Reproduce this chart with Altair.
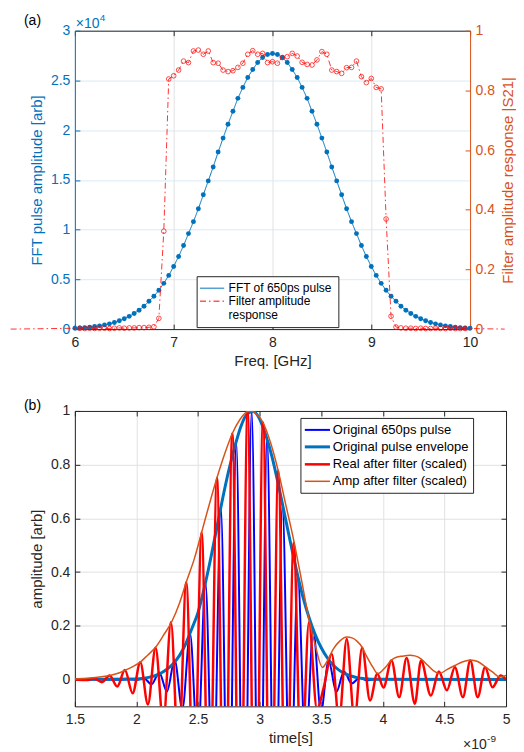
import altair as alt
import pandas as pd

FONT = "Liberation Sans"
TXT = "#262626"
BLUE = "#0072BD"
ORANGE = "#D95319"
RED = "#FF0000"
PBLUE = "#0000FF"
GRAYGRID = "#e1e1e1"
BLUEGRID = "#d9eaf5"

# ---------------- panel (a) data ----------------
fft_freq = [round(6 + 0.05 * i, 2) for i in range(81)]
fft_amp_e4 = [0.008, 0.011, 0.015, 0.020, 0.026, 0.033, 0.042, 0.053, 0.067, 0.084,
              0.104, 0.128, 0.157, 0.19, 0.23, 0.28, 0.33, 0.39, 0.46, 0.54,
              0.63, 0.73, 0.84, 0.96, 1.08, 1.21, 1.35, 1.49, 1.63, 1.78,
              1.92, 2.06, 2.19, 2.32, 2.43, 2.53, 2.61, 2.68, 2.73, 2.76,
              2.77,
              2.76, 2.73, 2.68, 2.61, 2.53, 2.43, 2.32, 2.19, 2.06, 1.92,
              1.78, 1.63, 1.49, 1.35, 1.21, 1.08, 0.96, 0.84, 0.73, 0.63,
              0.54, 0.46, 0.39, 0.33, 0.28, 0.23, 0.19, 0.157, 0.128, 0.104,
              0.084, 0.067, 0.053, 0.042, 0.033, 0.026, 0.020, 0.015, 0.011, 0.008]

filt_freq = [5.35] + [round(6.05 + 0.05 * i, 2) for i in range(79)] + [10.35]
filt_resp = ([0.0] +
             [0.003, 0.002, 0.003, 0.002, 0.003, 0.003, 0.002, 0.003, 0.004, 0.003,
              0.004, 0.004, 0.005, 0.005, 0.006, 0.008] +
             [0.036, 0.328, 0.838] +
             [0.849, 0.868, 0.898, 0.893, 0.932, 0.935, 0.921, 0.932, 0.893, 0.891,
              0.868, 0.863, 0.866, 0.877, 0.891, 0.921, 0.933, 0.921, 0.924, 0.893,
              0.896, 0.891, 0.910, 0.913, 0.924, 0.915, 0.894, 0.887, 0.885, 0.902,
              0.930, 0.921, 0.868, 0.863, 0.857, 0.876, 0.877, 0.898, 0.846, 0.826,
              0.840, 0.810, 0.805] +
             [0.369, 0.043, 0.007] +
             [0.004, 0.003, 0.003, 0.002, 0.003, 0.002, 0.002, 0.003, 0.002, 0.002,
              0.003, 0.002, 0.002, 0.002] +
             [0.0])

a_xticks = [6, 7, 8, 9, 10]
a_yticks = [0, 5000, 10000, 15000, 20000, 25000, 30000]
a_y2ticks = [0, 0.2, 0.4, 0.6, 0.8, 1.0]

# ---------------- panel (b) data (time in ns) ----------------
pulse_t = [1.5, 1.8725, 1.935, 1.9975, 2.06, 2.1225, 2.185, 2.2475, 2.31, 2.3725,
           2.435, 2.4975, 2.56, 2.6225, 2.685, 2.7475, 2.81, 2.8725, 2.935, 2.9975,
           3.06, 3.1225, 3.185, 3.2475, 3.31, 3.3725, 3.435, 3.4975, 3.56, 3.6225,
           3.685, 3.7475, 3.81, 3.8725, 3.935, 5.0]
pulse_v = [0.0, -0.0005, 0.001, -0.002, 0.005, -0.018, 0.026, -0.045, 0.072, -0.11,
           0.17, -0.25, 0.36, -0.50, 0.64, -0.78, 0.885, -0.96, 1.0, -0.97,
           0.90, -0.78, 0.65, -0.515, 0.385, -0.275, 0.185, -0.12, 0.07, -0.047,
           0.03, -0.015, 0.006, -0.003, 0.001, 0.0]

env_t = [1.5] + [round(2.0 + 0.05 * i, 2) for i in range(39)] + [5.0]
env_v = [0.0,
         0.002, 0.004, 0.008, 0.014, 0.024, 0.039, 0.060, 0.090, 0.133, 0.190,
         0.250, 0.340, 0.445, 0.560, 0.675, 0.780, 0.870, 0.945, 0.990, 0.998,
         0.970, 0.910, 0.830, 0.730, 0.620, 0.510, 0.405, 0.310, 0.232, 0.168,
         0.118, 0.080, 0.052, 0.033, 0.020, 0.012, 0.006, 0.003, 0.001,
         0.0]

real_t = [1.5, 1.595, 1.657, 1.72, 1.782, 1.844, 1.906, 1.969, 2.031, 2.093,
          2.155, 2.218, 2.280, 2.342, 2.404, 2.467, 2.529, 2.591, 2.653, 2.716,
          2.778, 2.840, 2.902, 2.965, 3.027, 3.089, 3.151, 3.214, 3.276, 3.338,
          3.400, 3.465, 3.52, 3.585, 3.645, 3.707, 3.77, 3.832, 3.896, 3.955,
          4.005, 4.07, 4.133, 4.193, 4.26, 4.31, 4.39, 4.455, 4.52, 4.585,
          4.65, 4.71, 4.77, 4.83, 4.89, 4.955, 5.0]
real_v = [0.0, -0.002, 0.004, -0.010, 0.015, -0.026, 0.035, -0.051, 0.064, -0.093,
          0.118, -0.16, 0.213, -0.29, 0.362, -0.46, 0.548, -0.65, 0.750, -0.84,
          0.916, -0.96, 0.998, -0.99, 0.957, -0.88, 0.777, -0.66, 0.51, -0.36,
          0.213, -0.11, -0.03, 0.095, -0.15, 0.151, -0.15, 0.118, -0.078, 0.021,
          -0.03, 0.071, -0.066, 0.08, -0.09, 0.071, -0.06, 0.03, -0.04, 0.046,
          -0.066, 0.071, -0.066, 0.046, -0.029, 0.015, 0.0]

amp_t = [1.5, 1.6, 1.7, 1.782, 1.85, 1.906, 1.97, 2.031, 2.09, 2.155,
         2.22, 2.286, 2.35, 2.404, 2.47, 2.529, 2.59, 2.653, 2.72, 2.778,
         2.84, 2.902, 2.93, 2.965, 3.027, 3.09, 3.151, 3.21, 3.276, 3.34,
         3.40, 3.45, 3.51, 3.55, 3.60, 3.65, 3.707, 3.75, 3.79, 3.832,
         3.87, 3.92, 3.96, 4.02, 4.07, 4.11, 4.16, 4.22, 4.26, 4.31,
         4.36, 4.41, 4.46, 4.52, 4.585, 4.65, 4.71, 4.77, 4.83, 4.89,
         4.95, 5.0]
amp_v = [0.002, 0.005, 0.009, 0.015, 0.023, 0.034, 0.048, 0.065, 0.09, 0.12,
         0.165, 0.215, 0.285, 0.362, 0.45, 0.548, 0.65, 0.75, 0.845, 0.916,
         0.968, 0.998, 1.0, 0.992, 0.957, 0.88, 0.777, 0.655, 0.52, 0.37,
         0.225, 0.13, 0.045, 0.07, 0.115, 0.143, 0.158, 0.155, 0.143, 0.12,
         0.085, 0.045, 0.022, 0.045, 0.072, 0.083, 0.087, 0.09, 0.088, 0.077,
         0.055, 0.033, 0.022, 0.037, 0.052, 0.066, 0.073, 0.067, 0.048, 0.028,
         0.009, 0.015]

b_xticks = [1.5, 2, 2.5, 3, 3.5, 4, 4.5, 5]
b_yticks = [0, 0.2, 0.4, 0.6, 0.8, 1.0]

WA, HA = 396, 299
WB, HB = 432, 296


def axis(**kw):
    base = dict(labels=False, ticks=False, domain=False, grid=False, tickSize=0,
                labelFont=FONT, labelFontSize=14, labelColor=TXT,
                titleFont=FONT, titleFontSize=15, titleFontWeight="normal",
                titleColor=TXT, domainColor=TXT, tickColor=TXT,
                domainWidth=1, tickWidth=1, labelFlush=False, labelOverlap=False)
    base.update(kw)
    return alt.Axis(**base)


# ---------------- panel (a) ----------------
S_FFT = "FFT of 650ps pulse"
S_FIL = "Filter amplitude|response"
df_fft = pd.DataFrame({"f": fft_freq, "a": [v * 1e4 for v in fft_amp_e4], "s": S_FFT})
df_fil = pd.DataFrame({"f": filt_freq, "r": filt_resp, "s": S_FIL})

xa = alt.Scale(domain=[6, 10], nice=False, zero=False)
ya = alt.Scale(domain=[0, 30000], nice=False, zero=False)
yr = alt.Scale(domain=[0, 1], nice=False, zero=False)
col_a = alt.Scale(domain=[S_FFT, S_FIL], range=[BLUE, RED])
dash_a = alt.Scale(domain=[S_FFT, S_FIL], range=[[1, 0], [6, 3, 1.5, 3]])
leg_a = alt.Legend(orient="none", legendX=122, legendY=246, title=None,
                   labelFont=FONT, labelFontSize=12, labelColor="#000000",
                   labelExpr="split(datum.label, '|')",
                   symbolType="M-2.2,0L2.2,0", symbolSize=121, symbolOffset=3.5,
                   labelOffset=10.5, symbolStrokeWidth=1, strokeColor=TXT,
                   fillColor="white", padding=6, rowPadding=1, labelLimit=300)

a1 = alt.Chart(df_fft).mark_line(strokeWidth=1, clip=True).encode(
    x=alt.X("f:Q", scale=xa, title="Freq. [GHz]",
            axis=axis(labels=True, domain=True, grid=True, gridColor=GRAYGRID,
                      values=a_xticks, labelPadding=6, titlePadding=4)),
    y=alt.Y("a:Q", scale=ya, title="FFT pulse amplitude [arb]",
            axis=axis(labels=True, domain=True, grid=True, gridColor=BLUEGRID,
                      values=a_yticks, labelExpr="datum.value / 10000 + ''",
                      labelColor=BLUE, titleColor=BLUE, domainColor=BLUE,
                      labelPadding=5, titlePadding=6)),
    color=alt.Color("s:N", scale=col_a, legend=leg_a),
    strokeDash=alt.StrokeDash("s:N", scale=dash_a, legend=leg_a),
)
a2 = alt.Chart(df_fft).mark_circle(size=24, color=BLUE, opacity=1).encode(
    x=alt.X("f:Q", scale=xa, title=None,
            axis=axis(orient="top", offset=-HA, ticks=True, tickSize=5, values=a_xticks)),
    y=alt.Y("a:Q", scale=ya, title=None,
            axis=axis(orient="right", offset=-WA, ticks=True, tickSize=5,
                      tickColor=BLUE, values=a_yticks)),
)
a3 = alt.Chart(df_fil).mark_line(strokeWidth=0.8, clip=False).encode(
    x=alt.X("f:Q", scale=xa, title=None,
            axis=axis(orient="bottom", offset=-HA, domain=True, ticks=True, tickSize=5,
                      values=a_xticks)),
    y=alt.Y("r:Q", scale=yr, title="Filter amplitude response |S21|",
            axis=axis(orient="right", labels=True, domain=True, values=a_y2ticks,
                      format=".1~f", labelColor=ORANGE, titleColor=ORANGE,
                      domainColor=ORANGE, labelPadding=5, titlePadding=6,
                      titleAngle=270, titleBaseline="top")),
    color=alt.Color("s:N", scale=col_a, legend=leg_a),
    strokeDash=alt.StrokeDash("s:N", scale=dash_a, legend=leg_a),
)
a4 = alt.Chart(df_fil).transform_filter("datum.f >= 6 && datum.f <= 10").mark_point(
    shape="circle", filled=False, size=22, strokeWidth=0.7, color=RED, opacity=1).encode(
    x=alt.X("f:Q", scale=xa, axis=None),
    y=alt.Y("r:Q", scale=yr, title=None,
            axis=axis(orient="left", offset=-WA, ticks=True, tickSize=5,
                      tickColor=ORANGE, values=a_y2ticks)),
)
a5 = alt.Chart(pd.DataFrame({"t": ["×10"]})).mark_text(
    align="left", baseline="alphabetic", font=FONT, fontSize=14, color=BLUE).encode(
    x=alt.value(1), y=alt.value(-3), text="t:N")
a6 = alt.Chart(pd.DataFrame({"t": ["4"]})).mark_text(
    align="left", baseline="alphabetic", font=FONT, fontSize=10, color=BLUE).encode(
    x=alt.value(25), y=alt.value(-10), text="t:N")

A = alt.layer(a1, a2, a3, a4, a5, a6).resolve_scale(y="independent").resolve_axis(
    x="independent", y="independent").properties(
    width=WA, height=HA,
    title=alt.TitleParams("(a)", anchor="start", frame="group", dx=-51, dy=-6,
                          offset=-21, font=FONT, fontSize=14, fontWeight="normal",
                          color="#000000"))

# ---------------- panel (b) ----------------
S_P = "Original 650ps pulse"
S_E = "Original pulse envelope"
S_R = "Real after filter (scaled)"
S_A = "Amp after filter (scaled)"
SER_B = [S_P, S_E, S_R, S_A]
df_p = pd.DataFrame({"t": pulse_t, "v": pulse_v, "s": S_P})
df_e = pd.DataFrame({"t": env_t, "v": env_v, "s": S_E})
df_r = pd.DataFrame({"t": real_t, "v": real_v, "s": S_R})
df_m = pd.DataFrame({"t": amp_t, "v": amp_v, "s": S_A})

xb = alt.Scale(domain=[1.5, 5], nice=False, zero=False)
yb = alt.Scale(domain=[-0.1, 1], nice=False, zero=False)
col_b = alt.Scale(domain=SER_B, range=[PBLUE, BLUE, RED, ORANGE])
sw_b = alt.Scale(type="ordinal", domain=SER_B, range=[2, 3, 2.5, 1.5])
leg_b = alt.Legend(orient="none", legendX=226, legendY=7, title=None,
                   labelFont=FONT, labelFontSize=13, labelColor="#000000",
                   symbolType="M-1.8,0L1.8,0", symbolSize=196, symbolOffset=4.5,
                   labelOffset=7, strokeColor=TXT,
                   fillColor="white", padding=4, rowPadding=1.5, labelLimit=300)


def bline(df, xaxis, yaxis, xtitle=None, ytitle=None):
    xenc = alt.X("t:Q", scale=xb, axis=xaxis) if xtitle is None else alt.X(
        "t:Q", scale=xb, axis=xaxis, title=xtitle)
    yenc = alt.Y("v:Q", scale=yb, axis=yaxis) if ytitle is None else alt.Y(
        "v:Q", scale=yb, axis=yaxis, title=ytitle)
    return alt.Chart(df).mark_line(clip=True, interpolate="monotone").encode(
        x=xenc, y=yenc,
        color=alt.Color("s:N", scale=col_b, legend=leg_b),
        strokeWidth=alt.StrokeWidth("s:N", scale=sw_b, legend=leg_b),
    )


b1 = bline(df_p,
           axis(labels=True, domain=True, grid=True, gridColor=GRAYGRID, values=b_xticks,
                format="~g", labelPadding=6, titlePadding=4),
           axis(labels=True, domain=True, grid=True, gridColor=GRAYGRID, values=b_yticks,
                format="~g", labelPadding=5, titlePadding=6),
           xtitle="time[s]", ytitle="amplitude [arb]")
b2 = bline(df_e,
           axis(orient="top", offset=-HB, ticks=True, tickSize=5, values=b_xticks, title=None),
           axis(orient="right", offset=-WB, ticks=True, tickSize=5, values=b_yticks, title=None))
b3 = bline(df_r,
           axis(orient="bottom", offset=-HB, domain=True, ticks=True, tickSize=5,
                values=b_xticks, title=None),
           axis(orient="left", offset=-WB, domain=True, ticks=True, tickSize=5,
                values=b_yticks, title=None))
b4 = bline(df_m, None, None)
b5 = alt.Chart(pd.DataFrame({"t": ["×10"]})).mark_text(
    align="left", baseline="alphabetic", font=FONT, fontSize=14, color=TXT).encode(
    x=alt.value(389), y=alt.value(339), text="t:N")
b6 = alt.Chart(pd.DataFrame({"t": ["-9"]})).mark_text(
    align="left", baseline="alphabetic", font=FONT, fontSize=10, color=TXT).encode(
    x=alt.value(413), y=alt.value(332), text="t:N")

B = alt.layer(b1, b2, b3, b4, b5, b6).resolve_axis(
    x="independent", y="independent").properties(
    width=WB, height=HB,
    title=alt.TitleParams("(b)", anchor="start", frame="group", dx=-51, offset=-9,
                          font=FONT, fontSize=14, fontWeight="normal", color="#000000"))

chart = alt.vconcat(A, B, spacing=82, bounds="flush").resolve_scale(
    color="independent", strokeDash="independent", strokeWidth="independent").properties(
    padding={"left": 0, "top": 3, "right": 0, "bottom": 0},
    background="white").configure_view(stroke="transparent")

chart.save("out.html", embed_options={"renderer": "svg", "actions": False})
